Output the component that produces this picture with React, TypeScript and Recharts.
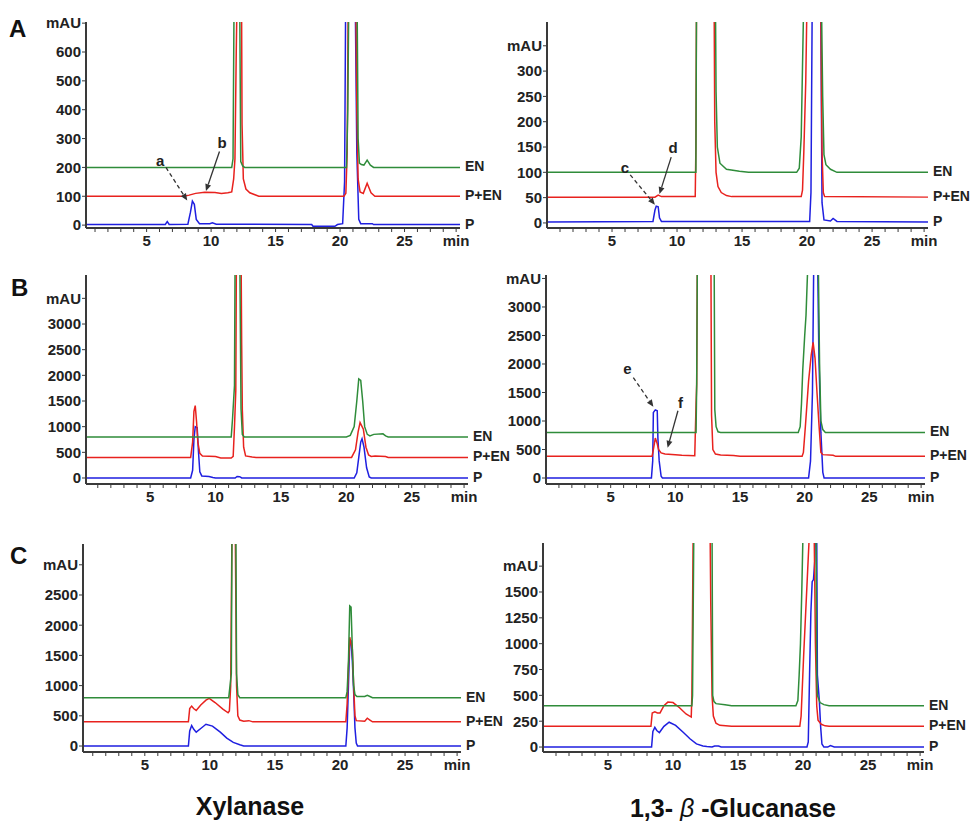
import React from 'react';
import { LineChart, Line, XAxis, YAxis, ReferenceLine, ReferenceDot } from 'recharts';

type Pt = [number, number];

// ---------- retention time ticks (min) ----------
const minuteTicks = [1, 2, 3, 4, 5, 6, 7, 8, 9, 10, 11, 12, 13, 14, 15, 16, 17, 18, 19, 20, 21, 22, 23, 24, 25, 26, 27, 28, 29];

// ---------- y ticks (top one is printed as "mAU") ----------
const xylATicks = [0, 100, 200, 300, 400, 500, 600, 700];
const glcATicks = [0, 50, 100, 150, 200, 250, 300, 350];
const xylBTicks = [0, 500, 1000, 1500, 2000, 2500, 3000, 3500];
const glcBTicks = [0, 500, 1000, 1500, 2000, 2500, 3000, 3500];
const xylCTicks = [0, 500, 1000, 1500, 2000, 2500, 3000];
const glcCTicks = [0, 250, 500, 750, 1000, 1250, 1500, 1750];

// ---------- A: xylanase ----------
const xylA_P: Pt[] = [[0, 2], [6.45, 2], [6.6, 12], [6.75, 2], [8.2, 3], [8.4, 45], [8.55, 83], [8.7, 72], [8.85, 20], [9.1, 5], [9.9, 5], [10.1, 8], [10.4, 3], [17.8, 2], [17.9, -4], [19.6, -4], [19.8, 2], [20.2, 5], [20.35, 150], [20.45, 900], [21.15, 900], [21.3, 250], [21.45, 20], [21.6, 5], [22.5, 5], [22.6, 2], [29.3, 2]];
const xylA_PEN: Pt[] = [[0, 100], [7.9, 100], [8.3, 104], [8.8, 110], [9.5, 114], [10.3, 113], [10.8, 110], [11.3, 112], [11.6, 115], [11.75, 160], [11.85, 230], [11.95, 600], [12.05, 900], [12.35, 900], [12.4, 350], [12.5, 160], [12.7, 125], [13.0, 112], [13.4, 105], [13.7, 100], [20.3, 100], [20.45, 110], [20.55, 250], [20.65, 900], [21.2, 900], [21.3, 400], [21.4, 160], [21.55, 115], [21.8, 110], [22.1, 145], [22.4, 112], [22.7, 100], [29.3, 100]];
const xylA_EN: Pt[] = [[0, 200], [11.6, 200], [11.7, 230], [11.8, 900], [12.2, 900], [12.3, 220], [12.45, 205], [12.6, 200], [20.5, 200], [20.6, 400], [20.7, 900], [21.3, 900], [21.4, 300], [21.5, 215], [21.65, 210], [21.85, 208], [22.1, 225], [22.35, 208], [22.6, 200], [29.3, 200]];

// ---------- A: 1,3-beta-glucanase ----------
const glcA_P: Pt[] = [[0, 2], [8.15, 3], [8.3, 25], [8.4, 33], [8.55, 32], [8.65, 10], [8.8, 3], [20.2, 3], [20.3, 60], [20.4, 450], [21.05, 450], [21.15, 40], [21.3, 6], [21.8, 4], [22.0, 9], [22.3, 3], [29.3, 2]];
const glcA_PEN: Pt[] = [[0, 51], [8.3, 51], [8.55, 55], [8.8, 52], [11.4, 52], [11.45, 150], [11.5, 450], [12.85, 450], [12.9, 200], [13.0, 100], [13.15, 72], [13.4, 60], [13.8, 54], [14.2, 52], [19.55, 52], [19.65, 65], [19.75, 140], [19.9, 280], [20.0, 450], [21.05, 450], [21.15, 140], [21.25, 60], [21.35, 52], [29.3, 51]];
const glcA_EN: Pt[] = [[0, 100], [11.45, 100], [11.5, 450], [12.95, 450], [13.0, 260], [13.1, 150], [13.3, 118], [13.8, 106], [14.8, 102], [15.5, 100], [19.2, 100], [19.4, 108], [19.55, 170], [19.65, 310], [19.75, 450], [21.1, 450], [21.2, 250], [21.3, 135], [21.45, 115], [21.8, 106], [22.3, 100], [29.3, 100]];

// ---------- B: xylanase ----------
const xylB_P: Pt[] = [[0, 0], [8.1, 0], [8.25, 150], [8.35, 750], [8.45, 1000], [8.6, 980], [8.7, 500], [8.8, 120], [8.95, 40], [9.5, 30], [9.8, 10], [10.0, 0], [11.5, 0], [11.65, 30], [11.85, 25], [12.0, 0], [20.6, 0], [20.8, 100], [20.95, 400], [21.1, 700], [21.2, 765], [21.35, 600], [21.55, 200], [21.75, 20], [21.9, 0], [29.3, 0]];
const xylB_PEN: Pt[] = [[0, 400], [8.1, 400], [8.25, 700], [8.35, 1300], [8.45, 1410], [8.55, 1100], [8.65, 700], [8.8, 480], [9.0, 430], [10.0, 420], [10.4, 390], [11.2, 390], [11.35, 420], [11.45, 1000], [11.55, 1700], [11.6, 4500], [11.95, 4500], [12.0, 2600], [12.05, 1330], [12.15, 600], [12.3, 430], [12.8, 410], [13.1, 400], [20.4, 400], [20.7, 550], [20.9, 900], [21.05, 1080], [21.3, 950], [21.5, 600], [21.7, 450], [21.9, 420], [22.2, 430], [23.0, 420], [23.2, 400], [29.3, 400]];
const xylB_EN: Pt[] = [[0, 800], [11.2, 800], [11.3, 1150], [11.45, 1800], [11.5, 4500], [11.85, 4500], [11.95, 1350], [12.05, 850], [12.2, 800], [20.0, 800], [20.3, 830], [20.6, 1000], [20.8, 1500], [20.95, 1930], [21.1, 1900], [21.25, 1500], [21.4, 1000], [21.6, 850], [21.8, 820], [22.1, 850], [22.8, 860], [23.0, 820], [23.2, 800], [29.3, 800]];

// ---------- B: 1,3-beta-glucanase ----------
const glcB_P: Pt[] = [[0, 0], [8.15, 0], [8.25, 300], [8.3, 1150], [8.45, 1195], [8.6, 1180], [8.65, 700], [8.75, 300], [8.9, 30], [9.0, 0], [20.3, 0], [20.45, 300], [20.6, 1500], [20.7, 3800], [21.0, 3800], [21.1, 2100], [21.25, 800], [21.4, 100], [21.5, 0], [29.3, 0]];
const glcB_PEN: Pt[] = [[0, 380], [8.2, 380], [8.3, 500], [8.45, 700], [8.6, 600], [8.7, 500], [8.9, 440], [9.2, 420], [10.0, 410], [10.5, 400], [11.5, 390], [11.6, 1300], [11.65, 1650], [11.7, 3800], [12.75, 3800], [12.8, 1100], [12.9, 500], [13.1, 420], [13.5, 405], [14.5, 395], [15.0, 380], [19.8, 380], [19.9, 450], [20.05, 900], [20.3, 1700], [20.5, 2150], [20.65, 2380], [20.8, 2100], [20.95, 1500], [21.1, 950], [21.25, 450], [21.4, 410], [22.2, 400], [22.4, 380], [29.3, 380]];
const glcB_EN: Pt[] = [[0, 800], [11.6, 800], [11.65, 1650], [11.7, 3800], [13.0, 3800], [13.05, 1200], [13.15, 900], [13.3, 810], [13.5, 800], [19.5, 800], [19.65, 900], [19.75, 1300], [19.85, 1900], [20.0, 2500], [20.1, 2850], [20.25, 3800], [21.05, 3800], [21.15, 2000], [21.25, 1000], [21.4, 850], [21.6, 800], [29.3, 800]];

// ---------- C: xylanase ----------
const xylC_P: Pt[] = [[0, 0], [8.35, 0], [8.45, 250], [8.6, 340], [8.75, 280], [8.95, 230], [9.3, 290], [9.7, 360], [10.2, 330], [10.8, 230], [11.3, 130], [11.8, 60], [12.3, 20], [12.6, 0], [20.45, 0], [20.55, 300], [20.65, 1000], [20.75, 1700], [20.85, 1750], [20.95, 1400], [21.05, 900], [21.15, 300], [21.25, 50], [21.35, 0], [29.3, 0]];
const xylC_PEN: Pt[] = [[0, 400], [8.35, 400], [8.45, 620], [8.6, 660], [8.75, 620], [8.95, 590], [9.3, 680], [9.7, 760], [9.95, 790], [10.4, 720], [11.0, 610], [11.4, 550], [11.5, 580], [11.6, 1000], [11.7, 3600], [11.95, 3600], [12.05, 1000], [12.15, 500], [12.3, 430], [12.6, 410], [13.0, 420], [13.3, 400], [20.45, 400], [20.55, 700], [20.65, 1300], [20.75, 1800], [20.85, 1700], [20.95, 1600], [21.05, 1000], [21.15, 500], [21.25, 420], [21.9, 410], [22.1, 460], [22.3, 430], [22.5, 400], [29.3, 400]];
const xylC_EN: Pt[] = [[0, 800], [11.45, 800], [11.55, 1000], [11.65, 1200], [11.7, 3600], [12.0, 3600], [12.05, 1200], [12.15, 850], [12.3, 800], [20.45, 800], [20.55, 900], [20.65, 1400], [20.75, 2320], [20.85, 2300], [20.95, 1600], [21.05, 1000], [21.15, 850], [21.3, 820], [21.9, 820], [22.1, 840], [22.3, 820], [22.5, 800], [29.3, 800]];

// ---------- C: 1,3-beta-glucanase ----------
const glcC_P: Pt[] = [[0, 0], [8.35, 0], [8.45, 150], [8.6, 190], [8.75, 160], [8.95, 140], [9.3, 200], [9.7, 240], [10.2, 210], [10.8, 140], [11.3, 80], [11.8, 30], [12.3, 10], [12.6, 5], [13.0, 0], [13.2, 10], [13.5, 10], [13.7, 0], [20.3, 0], [20.4, 50], [20.5, 700], [20.6, 1300], [20.7, 1600], [20.8, 1620], [20.9, 1800], [20.95, 2100], [21.05, 2100], [21.1, 700], [21.25, 450], [21.35, 200], [21.45, 30], [21.6, 0], [21.9, 0], [22.1, 15], [22.4, 0], [29.3, 0]];
const glcC_PEN: Pt[] = [[0, 200], [8.3, 200], [8.4, 330], [8.6, 340], [8.8, 330], [9.0, 330], [9.3, 400], [9.6, 435], [10.0, 430], [10.5, 380], [11.0, 320], [11.4, 290], [11.45, 500], [11.5, 1300], [11.55, 2100], [12.85, 2100], [12.9, 1400], [13.0, 500], [13.1, 300], [13.3, 230], [13.6, 210], [14.5, 200], [19.75, 200], [19.85, 300], [19.95, 600], [20.05, 900], [20.2, 1300], [20.35, 1700], [20.5, 2100], [20.85, 2100], [20.9, 1600], [20.95, 1000], [21.05, 400], [21.15, 260], [21.4, 220], [21.7, 205], [22.0, 200], [29.3, 200]];
const glcC_EN: Pt[] = [[0, 400], [11.45, 400], [11.5, 500], [11.55, 1300], [11.6, 2100], [13.0, 2100], [13.05, 500], [13.15, 440], [13.3, 420], [14.0, 410], [14.5, 400], [19.45, 400], [19.6, 450], [19.7, 700], [19.8, 1000], [19.9, 1500], [20.0, 2100], [21.0, 2100], [21.05, 700], [21.1, 500], [21.3, 430], [21.6, 410], [22.0, 400], [29.3, 400]];

// ---------- peak annotations: label position, arrow start, arrow tip ----------
type Note = { text: string; at: Pt; from: Pt; to: Pt; dashed: boolean };
const xylANotes: Note[] = [
  { text: 'a', at: [6.05, 222], from: [6.5, 200], to: [8.15, 85], dashed: true },
  { text: 'b', at: [10.85, 285], from: [10.65, 255], to: [9.6, 118], dashed: false },
];
const glcANotes: Note[] = [
  { text: 'c', at: [6.0, 108], from: [6.4, 95], to: [8.3, 36], dashed: true },
  { text: 'd', at: [9.7, 148], from: [9.55, 130], to: [8.65, 57], dashed: false },
];
const glcBNotes: Note[] = [
  { text: 'e', at: [6.3, 1920], from: [6.75, 1760], to: [8.3, 1250], dashed: true },
  { text: 'f', at: [10.4, 1320], from: [10.2, 1180], to: [9.4, 530], dashed: false },
];

const BLUE = '#1f1fe0';
const RED = '#e8221e';
const GREEN = '#2f8c3a';
const AX = '#3a3a3a';
const FONT = '"Liberation Sans", Arial, Helvetica, sans-serif';
const YW = 60, MT = 12, MR = 52, XH = 30;

type Cfg = {
  left: number; top: number; w: number; h: number;
  x: [number, number]; y: [number, number]; yTicks: number[];
  P: Pt[]; PEN: Pt[]; EN: Pt[]; notes: Note[];
};

const panels: Cfg[] = [
  { left: 86, top: 22, w: 374, h: 206, x: [0.3, 29.3], y: [-10, 704], yTicks: xylATicks, P: xylA_P, PEN: xylA_PEN, EN: xylA_EN, notes: xylANotes },
  { left: 547, top: 22, w: 381, h: 206, x: [0, 29.3], y: [-10, 397], yTicks: glcATicks, P: glcA_P, PEN: glcA_PEN, EN: glcA_EN, notes: glcANotes },
  { left: 86, top: 275, w: 382, h: 209, x: [0.1, 29.3], y: [-117, 3955], yTicks: xylBTicks, P: xylB_P, PEN: xylB_PEN, EN: xylB_EN, notes: [] },
  { left: 546, top: 275, w: 379, h: 209, x: [0, 29.3], y: [-105, 3561], yTicks: glcBTicks, P: glcB_P, PEN: glcB_PEN, EN: glcB_EN, notes: glcBNotes },
  { left: 83, top: 544, w: 378, h: 208, x: [0.25, 29.3], y: [-99, 3344], yTicks: xylCTicks, P: xylC_P, PEN: xylC_PEN, EN: xylC_EN, notes: [] },
  { left: 543, top: 543, w: 381, h: 209, x: [0, 29.3], y: [-48, 1974], yTicks: glcCTicks, P: glcC_P, PEN: glcC_PEN, EN: glcC_EN, notes: [] },
];

const tickFont = { fontSize: 15, fontWeight: 700, fill: '#222', fontFamily: FONT };

const arrowShape = (dashed: boolean) => (p: any) => {
  const { x1, y1, x2, y2 } = p;
  const ang = Math.atan2(y2 - y1, x2 - x1);
  const L = 7, W = 3;
  const bx = x2 - L * Math.cos(ang);
  const by = y2 - L * Math.sin(ang);
  const head = `${x2},${y2} ${bx - W * Math.sin(ang)},${by + W * Math.cos(ang)} ${bx + W * Math.sin(ang)},${by - W * Math.cos(ang)}`;
  return (
    <g>
      <line x1={x1} y1={y1} x2={bx} y2={by} stroke="#333" strokeWidth={1.3} strokeDasharray={dashed ? '4 3' : undefined} />
      <polygon points={head} fill="#333" />
    </g>
  );
};

function Chrom({ cfg }: { cfg: Cfg }) {
  const topTick = cfg.yTicks[cfg.yTicks.length - 1];
  const series = [
    { name: 'P', color: BLUE, data: cfg.P },
    { name: 'P+EN', color: RED, data: cfg.PEN },
    { name: 'EN', color: GREEN, data: cfg.EN },
  ];
  return (
    <div style={{ position: 'absolute', left: cfg.left - YW, top: cfg.top - MT }}>
      <LineChart width={YW + cfg.w + MR} height={MT + cfg.h + XH} margin={{ top: MT, right: MR, left: 0, bottom: 0 }}>
        <XAxis
          type="number"
          dataKey="t"
          domain={cfg.x}
          allowDataOverflow
          ticks={minuteTicks}
          interval={0}
          height={XH}
          tickSize={4}
          tickMargin={3}
          tickFormatter={(v: number) => (v === 29 ? 'min' : v % 5 === 0 ? String(v) : '')}
          axisLine={{ stroke: AX, strokeWidth: 2 }}
          tickLine={{ stroke: AX }}
          tick={tickFont}
        />
        <YAxis
          type="number"
          domain={cfg.y}
          allowDataOverflow
          ticks={cfg.yTicks}
          interval={0}
          width={YW}
          tickSize={4}
          tickMargin={1}
          tickFormatter={(v: number) => (v === topTick ? 'mAU' : String(v))}
          axisLine={{ stroke: AX, strokeWidth: 2 }}
          tickLine={{ stroke: AX }}
          tick={tickFont}
        />
        {series.map((s) => (
          <Line
            key={s.name}
            data={s.data.map(([t, v]) => ({ t, v }))}
            dataKey="v"
            type="linear"
            stroke={s.color}
            strokeWidth={1.5}
            dot={false}
            isAnimationActive={false}
            label={(p: any) =>
              p.index === s.data.length - 1 ? (
                <text key={s.name} x={p.x + 5} y={p.y + 4} fontSize={14} fontWeight={700} fill="#222" fontFamily={FONT}>
                  {s.name}
                </text>
              ) : (
                <g key={`n${p.index}`} />
              )
            }
          />
        ))}
        {cfg.notes.map((n) => (
          <ReferenceLine
            key={`l${n.text}`}
            segment={[{ x: n.from[0], y: n.from[1] }, { x: n.to[0], y: n.to[1] }]}
            ifOverflow="visible"
            shape={arrowShape(n.dashed)}
          />
        ))}
        {cfg.notes.map((n) => (
          <ReferenceDot
            key={`d${n.text}`}
            x={n.at[0]}
            y={n.at[1]}
            r={0}
            ifOverflow="visible"
            shape={(p: any) => (
              <text x={p.cx} y={p.cy + 5} textAnchor="middle" fontSize={15} fontWeight={700} fill="#222" fontFamily={FONT}>
                {n.text}
              </text>
            )}
          />
        ))}
      </LineChart>
    </div>
  );
}

export default function App() {
  return (
    <div style={{ position: 'absolute', left: 0, top: 0, width: 971, height: 821, background: '#fff', overflow: 'hidden' }}>
      {panels.map((p, i) => (
        <Chrom key={i} cfg={p} />
      ))}
      <svg width={971} height={821} style={{ position: 'absolute', left: 0, top: 0, pointerEvents: 'none' }}>
        <g fontFamily={FONT} fontWeight={700} fill="#111">
          <text x={9} y={37} fontSize={24}>A</text>
          <text x={11} y={296} fontSize={24}>B</text>
          <text x={10} y={564} fontSize={24}>C</text>
          <text x={250} y={815} fontSize={25} textAnchor="middle">Xylanase</text>
          <text x={733} y={817} fontSize={25} textAnchor="middle">
            1,3-<tspan fontStyle="italic" fontWeight={400}> β </tspan>-Glucanase
          </text>
        </g>
      </svg>
    </div>
  );
}
